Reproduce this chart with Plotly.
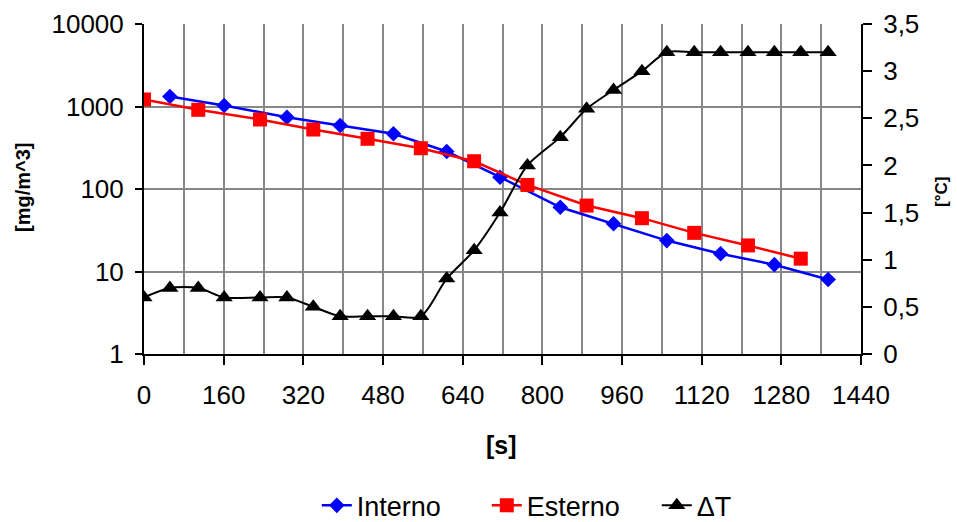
import plotly.graph_objects as go

# Concentrations over time: inside vs outside sampling point
interno_t = [52, 161, 287, 394, 501, 608, 715, 836, 943, 1050, 1158, 1266, 1374]
interno_c = [1320, 1030, 742, 589, 467, 285, 139, 60, 37.9, 23.7, 16.4, 12.1, 8.0]

esterno_t = [0, 109, 233, 340, 449, 556, 663, 770, 889, 1000, 1105, 1213, 1319]
esterno_c = [1216, 912, 696, 526, 406, 312, 217, 112, 63, 44.3, 29.4, 20.7, 14.3]

# Temperature difference, logged at every sampling instant
delta_t_time = sorted(interno_t + esterno_t)
delta_t = [0.6, 0.7, 0.7, 0.6, 0.6, 0.6, 0.5, 0.4, 0.4, 0.4, 0.4, 0.8, 1.1,
           1.5, 2.0, 2.3, 2.6, 2.8, 3.0, 3.2, 3.2, 3.2, 3.2, 3.2, 3.2, 3.2]

log_tickvals = [1, 10, 100, 1000, 10000]
log_ticktext = ["1", "10", "100", "1000", "10000"]

FONT = "Liberation Sans, Arial, sans-serif"
GRID = "#878787"

fig = go.Figure()
fig.add_trace(go.Scatter(
    x=interno_t, y=interno_c, name="Interno", mode="lines+markers",
    line=dict(color="#0000FF", width=2.5),
    marker=dict(symbol="diamond", size=12, color="#0000FF"),
))
fig.add_trace(go.Scatter(
    x=esterno_t, y=esterno_c, name="Esterno", mode="lines+markers",
    line=dict(color="#FF0000", width=2.5),
    marker=dict(symbol="square", size=14, color="#FF0000"),
))
fig.add_trace(go.Scatter(
    x=delta_t_time, y=delta_t, name="ΔT", mode="lines+markers", yaxis="y2",
    line=dict(color="#000000", width=2, shape="spline", smoothing=0.8),
    marker=dict(symbol="triangle-up", size=15, color="#000000"),
))

fig.update_layout(
    width=957, height=522,
    margin=dict(l=144, r=96, t=24, b=168, autoexpand=False),
    paper_bgcolor="white", plot_bgcolor="white",
    font=dict(family=FONT, size=26, color="black"),
    separators=",.",
    showlegend=True,
    legend=dict(orientation="h", x=0.241, xanchor="left", y=-0.46,
                yanchor="middle", font=dict(size=27), bgcolor="rgba(0,0,0,0)",
                entrywidth=125),
    xaxis=dict(
        range=[0, 1440], tick0=0, dtick=160,
        showgrid=True, gridcolor=GRID, gridwidth=2,
        minor=dict(dtick=80, showgrid=True, gridcolor=GRID, gridwidth=2),
        ticks="outside", ticklen=9, tickwidth=2, tickcolor="black",
        showline=True, linecolor="black", linewidth=2, zeroline=False,
        ticklabelstandoff=8,
    ),
    yaxis=dict(
        type="log", range=[0, 4], tickvals=log_tickvals, ticktext=log_ticktext,
        showgrid=True, gridcolor=GRID, gridwidth=2,
        ticks="outside", ticklen=7, tickwidth=2, tickcolor="black",
        showline=True, linecolor="black", linewidth=2, zeroline=False,
        ticklabelstandoff=6,
    ),
    yaxis2=dict(
        overlaying="y", side="right", range=[0, 3.5], dtick=0.5, tick0=0,
        showgrid=False, ticks="outside", ticklen=9, tickwidth=2, tickcolor="black",
        showline=True, linecolor="black", linewidth=2, zeroline=False,
        ticklabelstandoff=6,
    ),
    annotations=[
        dict(text="<b>[mg/m^3]</b>", xref="paper", yref="paper",
             x=-0.1688, y=0.506, xanchor="center", yanchor="middle",
             textangle=-90, showarrow=False, font=dict(size=20)),
        dict(text="<b>[°C]</b>", xref="paper", yref="paper",
             x=1.113, y=0.491, xanchor="center", yanchor="middle",
             textangle=-90, showarrow=False, font=dict(size=17)),
        dict(text="<b>[s]</b>", xref="paper", yref="paper",
             x=0.4993, y=-0.276, xanchor="center", yanchor="middle",
             showarrow=False, font=dict(size=25)),
    ],
)

fig.write_html("out.html")
